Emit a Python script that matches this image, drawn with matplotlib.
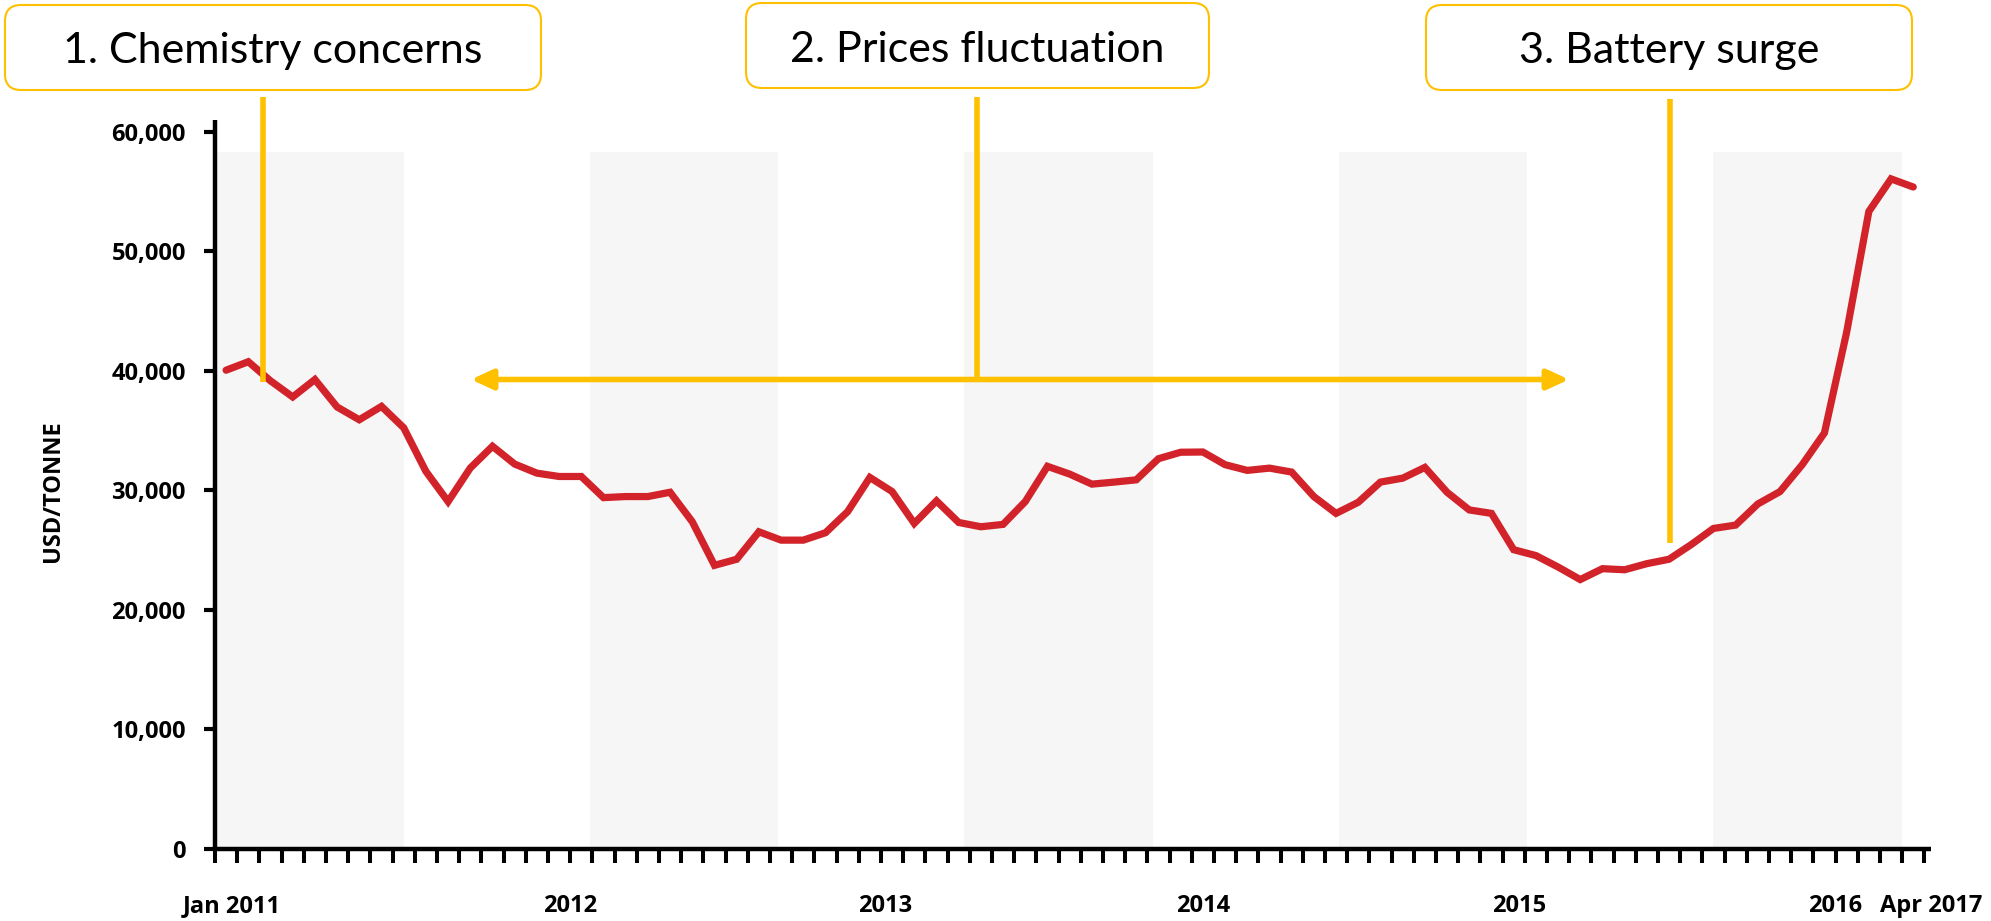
import numpy as np
import matplotlib
matplotlib.use("Agg")
import matplotlib.pyplot as plt
from matplotlib.patches import FancyBboxPatch, FancyArrowPatch

# monthly lithium carbonate price, USD/tonne (Jan 2011 onwards)
prices = [40050, 40760, 39160, 37810, 39270, 36970, 35900, 37020, 35230, 31580,
          29050, 31860, 33680, 32190, 31430, 31150, 31150, 29380, 29470, 29470,
          29830, 27360, 23710, 24220, 26520, 25820, 25820, 26440, 28210, 31070,
          29890, 27220, 29110, 27300, 26940, 27140, 29050, 32000, 31350, 30510,
          30680, 30870, 32640, 33180, 33200, 32140, 31660, 31850, 31520, 29470,
          28060, 28990, 30680, 31010, 31910, 29830, 28350, 28060, 25020, 24530,
          23570, 22520, 23430, 23340, 23850, 24220, 25450, 26800, 27080, 28850,
          29890, 32140, 34800, 43230, 53340, 56070, 55390]
year_labels = ["Jan 2011", "2012", "2013", "2014", "2015", "2016", "Apr 2017"]
band_top = 58300
notes = ["1. Chemistry concerns", "2. Prices fluctuation", "3. Battery surge"]

# layout (label spots on the month axis, shaded blocks)
label_pos = [0.75, 16.0, 30.2, 44.5, 58.75, 73.0, 77.3]
band_starts = np.arange(5) * 16.87
band_w = 8.5

W, H = 1991, 921
RED = "#D2232A"
GOLD = "#FFC000"
TICKFONT = "Open Sans"

fig = plt.figure(figsize=(W / 100, H / 100), dpi=100)
ax = fig.add_axes([215 / W, (H - 848.5) / H, 1716 / W, 728.5 / H])

x = np.arange(len(prices)) + 0.5
ax.bar(band_starts, band_top, width=band_w, align="edge", color="#f6f6f6", zorder=0)
ax.plot(x, prices, color=RED, lw=5.2, solid_capstyle="round", solid_joinstyle="miter", zorder=3)

ax.set_xlim(0, 77.3)
ax.set_ylim(0, 61000)
for s in ["top", "right"]:
    ax.spines[s].set_visible(False)
for s in ["left", "bottom"]:
    ax.spines[s].set_linewidth(3.2)
    ax.spines[s].set_capstyle("butt")

ax.set_xticks(np.arange(78))
ax.set_xticklabels([])
ax.tick_params(axis="x", length=10, width=2.9, direction="out")
ax.set_yticks(np.arange(0, 60001, 10000))
ax.set_yticklabels([f"{v:,}" for v in range(0, 60001, 10000)],
                   fontsize=17, fontweight="bold", family=TICKFONT)
ax.tick_params(axis="y", length=8, width=3, pad=13)

for lbl, p in zip(year_labels, label_pos):
    ax.annotate(lbl, (p, 0), xycoords=("data", "axes fraction"), xytext=(0, -41.4),
                textcoords="offset points", ha="center", va="center",
                fontsize=17, fontweight="bold", family=TICKFONT)

ax.text(-0.0944, 0.49, "USD/TONNE", transform=ax.transAxes, rotation=90,
        ha="center", va="center", fontsize=17, fontweight="bold", family=TICKFONT)

# overlay in pixel units for the callouts
ov = fig.add_axes([0, 0, 1, 1], zorder=10)
ov.set_xlim(0, W)
ov.set_ylim(H, 0)
ov.axis("off")

boxes = [(5, 5, 536, 85, 63), (746, 3, 463, 85, 62), (1426, 5, 486, 85, 63)]
for (bx, by, bw, bh, base), txt in zip(boxes, notes):
    ov.add_patch(FancyBboxPatch((bx, by), bw, bh, boxstyle="round,pad=0,rounding_size=16",
                                ec=GOLD, fc="white", lw=1.5))
    ov.text(bx + bw / 2, base, txt, ha="center", va="baseline", fontsize=31, family="Lato")

for lx, y0, y1 in [(262.5, 97, 382), (977, 97, 380), (1670, 99, 543)]:
    ov.plot([lx, lx], [y0, y1], color=GOLD, lw=4, solid_capstyle="butt")

ov.add_patch(FancyArrowPatch((471, 379.5), (1569, 379.5),
                             arrowstyle="<|-|>,head_length=13,head_width=6",
                             mutation_scale=1, color=GOLD, lw=4,
                             shrinkA=0, shrinkB=0))

fig.savefig("out.png", dpi=100)
